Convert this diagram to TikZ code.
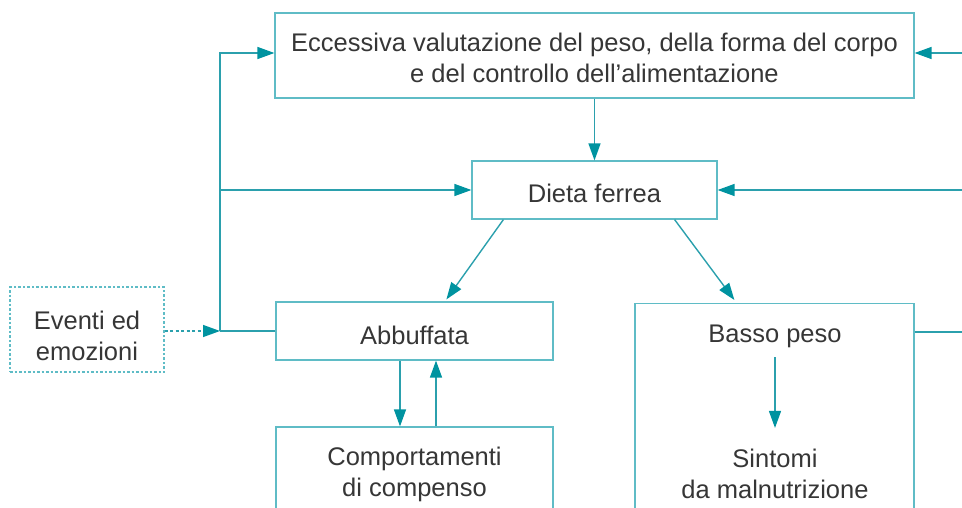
\documentclass[tikz,border=0pt]{standalone}
\usepackage{fontspec}
\setmainfont{Liberation Sans}
\usetikzlibrary{arrows.meta,calc}
\definecolor{linec}{HTML}{2BA0AD}
\definecolor{tipc}{HTML}{0093A0}
\definecolor{boxc}{HTML}{5FBCC6}
\definecolor{txtc}{HTML}{363636}
\newcommand{\lift}[1]{\rule{0pt}{#1}}
\tikzset{
  box/.style={draw=boxc, line width=1.2pt, rectangle, inner sep=0pt, align=center,
    text=txtc, font=\fontsize{25.5}{31}\selectfont},
  ebox/.style={box, dash pattern=on 2.5pt off 2pt},
  txt/.style={inner sep=0pt, align=center, text=txtc, font=\fontsize{25.5}{31}\selectfont},
  conn/.style={draw=linec, line width=1.4pt},
  arr/.style={conn, -{Triangle[length=17pt,width=12pt,color=tipc]}},
  darr/.style={arr, dash pattern=on 3pt off 2.5pt},
}
\begin{document}
\begin{tikzpicture}[x=1pt,y=-1pt]
\useasboundingbox (0,0) rectangle (962,507);
\clip (0,0) rectangle (962,507);

\node[box, minimum width=639pt, minimum height=85pt] (top) at (594.5,55.5)
  {\lift{24pt}Eccessiva valutazione del peso, della forma del corpo\\e del controllo dell’alimentazione};
\node[box, minimum width=245pt, minimum height=58pt] (dieta) at (594.5,190) {\lift{26pt}Dieta ferrea};
\node[box, minimum width=277pt, minimum height=58pt] (abb) at (414.5,331) {\lift{28pt}Abbuffata};
\node[box, minimum width=277pt, minimum height=94pt] (comp) at (414.5,474)
  {Comportamenti\\di compenso};
\node[box, minimum width=279pt, minimum height=260pt, anchor=north] (basso) at (774.5,303) {};
\node[txt, anchor=base] (bp) at (775,342) {Basso peso};
\node[txt] (sint) at (775,474) {Sintomi\\da malnutrizione};
\node[ebox, minimum width=154pt, minimum height=85pt] (ev) at (87,329.5) {\lift{32pt}Eventi ed\\emozioni};

\coordinate (L) at (220,331);
\coordinate (R) at (990,332);

% left loop
\draw[conn] (abb.west |- L) -- (L);
\draw[arr] (L) |- ([yshift=2.5pt]top.west);
\draw[arr] (dieta.west -| L) -- (dieta.west);
\draw[darr] (ev.east |- L) -- (L);

% right loop
\draw[conn] (basso.east |- R) -- (R) -- ([yshift=2.5pt]top.east -| R);
\draw[arr] ([yshift=2.5pt]top.east -| R) -- ([yshift=2.5pt]top.east);
\draw[arr] (dieta.east -| R) -- (dieta.east);

% main flow
\draw[arr] (top.south) -- (dieta.north);
\draw[arr] ([xshift=32pt]dieta.south west) -- ([xshift=171pt,yshift=2pt]abb.north west);
\draw[arr] ([xshift=-43pt]dieta.south east) -- ([xshift=100pt,yshift=3pt]basso.north west);
\draw[arr] ([xshift=-14.5pt]abb.south) -- ([xshift=-14.5pt]comp.north);
\draw[arr] ([xshift=21.5pt]comp.north) -- ([xshift=21.5pt]abb.south);
\draw[arr, shorten <=9.6pt, shorten >=21pt] (bp.south) -- (sint.north);
\end{tikzpicture}
\end{document}
